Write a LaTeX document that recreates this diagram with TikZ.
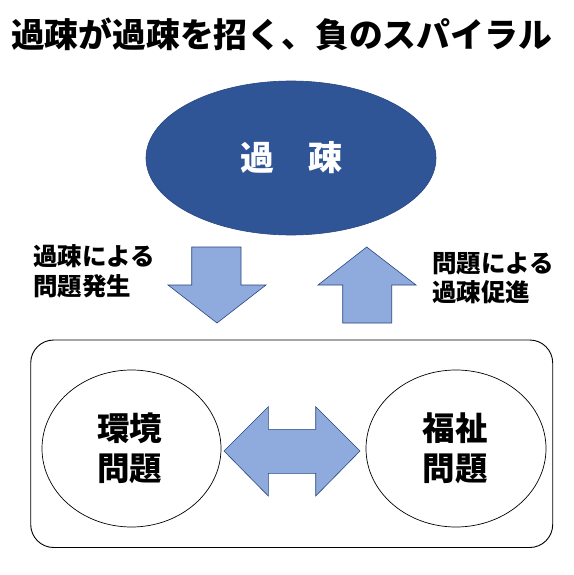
\documentclass[tikz,border=0pt]{standalone}
\usepackage{fontspec}
\setmainfont{Noto Sans CJK JP}
\definecolor{dkblue}{RGB}{47,85,151}
\definecolor{dkline}{RGB}{40,70,130}
\definecolor{ltblue}{RGB}{143,170,220}
\tikzset{
  blockarrow/.style={fill=ltblue, draw=dkline, line width=0.6pt, line join=miter},
  bubble/.style={ellipse, draw=black, line width=0.7pt, fill=white, align=center, inner sep=0pt},
  circtext/.style={font=\fontsize{32.5}{40}\selectfont\bfseries, align=center},
  lbl/.style={font=\fontsize{24.5}{29.5}\selectfont\bfseries, align=left, inner sep=0pt}
}
\usetikzlibrary{shapes.geometric}
\begin{document}
\begin{tikzpicture}[x=1pt,y=-1pt]
\useasboundingbox (0,0) rectangle (573,575);
\fill[white] (0,0) rectangle (573,575);
% title
\node[font=\fontsize{33.8}{40}\selectfont\bfseries, inner sep=0pt] (title) at (281.5,34.5) {過疎が過疎を招く、負のスパイラル};
% top ellipse
\node[ellipse, fill=dkblue, draw=dkline, line width=0.6pt, minimum width=290pt, minimum height=154pt, inner sep=0pt,
      text=white, font=\fontsize{34}{40}\selectfont\bfseries] (kaso) at (291,158) {過　疎};
% side labels
\node[lbl, anchor=west] (lblL) at (33,271.5) {過疎による\\問題発生};
\node[lbl, anchor=west] (lblR) at (432,278) {問題による\\過疎促進};
% down and up arrows
\draw[blockarrow] (191.7,247) -- (241,247) -- (241,285) -- (266,285) -- (217,323) -- (168,285) -- (191.7,285) -- cycle;
\draw[blockarrow] (366.7,247) -- (416,285) -- (391.7,285) -- (391.7,323) -- (342.7,323) -- (342.7,285) -- (318,285) -- cycle;
% rounded frame
\draw[line width=0.9pt, rounded corners=23pt] (30.7,340) rectangle (552.7,547.5);
% circles
\node[bubble, minimum width=179pt, minimum height=157pt] (env) at (131.5,448.5) {};
\node[circtext] (envt) at (129.5,448) {環境\\問題};
\node[bubble, minimum width=180pt, minimum height=157pt] (wel) at (456,448.5) {};
\node[circtext] (welt) at (455,448) {福祉\\問題};
% double arrow
\draw[blockarrow] (224,451) -- (268.3,406.7) -- (268.3,429.3) -- (315.7,429.3) -- (315.7,406.7) -- (360,451)
  -- (315.7,496) -- (315.7,473.3) -- (268.3,473.3) -- (268.3,496) -- cycle;
\end{tikzpicture}
\end{document}
